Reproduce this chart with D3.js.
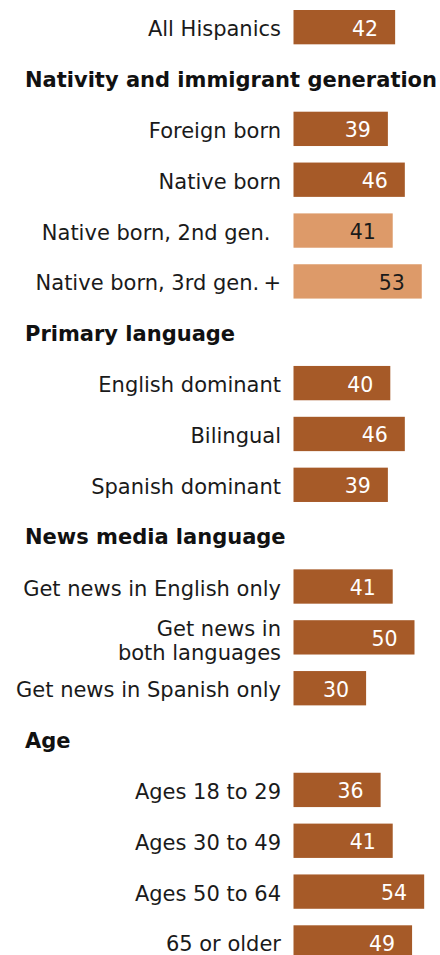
<!DOCTYPE html>
<html>
<head>
<meta charset="utf-8">
<script src="https://cdn.jsdelivr.net/npm/d3@7"></script>
<style>
  html, body { margin: 0; padding: 0; background: #fff; }
  svg { display: block; font-family: "DejaVu Sans", Verdana, sans-serif; }
</style>
</head>
<body>
<svg id="chart" width="440" height="955"></svg>
<script>
// Rows in display order; headers occupy a row slot but draw no bar
const rowLabels = [
  "All Hispanics",
  "Nativity and immigrant generation",
  "Foreign born",
  "Native born",
  "Native born, 2nd gen.\u2002",
  "Native born, 3rd gen.\u2009+",
  "Primary language",
  "English dominant",
  "Bilingual",
  "Spanish dominant",
  "News media language",
  "Get news in English only",
  "Get news in\nboth languages",
  "Get news in Spanish only",
  "Age",
  "Ages 18 to 29",
  "Ages 30 to 49",
  "Ages 50 to 64",
  "65 or older"
];
const rowKinds = ["bar","header","bar","bar","sub","sub","header","bar","bar","bar",
                  "header","bar","bar","bar","header","bar","bar","bar","bar"];
const rowValues = [42, null, 39, 46, 41, 53, null, 40, 46, 39, null, 41, 50, 30, null, 36, 41, 54, 49];

const rows = rowLabels.map((label, i) => ({ i, label, kind: rowKinds[i], value: rowValues[i] }));

const svg = d3.select("#chart");

const x = d3.scaleLinear().domain([0, 54]).range([293.5, 293.5 + 2.42 * 54]);
const step = 50.85;
const y = d3.scaleBand()
  .domain(rows.map(d => d.i))
  .range([10 - 0.1625 * step, 10 - 0.1625 * step + rows.length * step])
  .paddingInner(0.325)
  .paddingOuter(0.1625);

const color = { bar: "#A65A28", sub: "#DD9A69" };
const valueColor = { bar: "#ffffff", sub: "#1a1a1a" };

const bars = rows.filter(d => d.kind !== "header");
const headers = rows.filter(d => d.kind === "header");

svg.append("g").selectAll("rect")
  .data(bars)
  .join("rect")
  .attr("x", x(0))
  .attr("y", d => y(d.i))
  .attr("width", d => x(d.value) - x(0))
  .attr("height", y.bandwidth())
  .attr("fill", d => color[d.kind]);

svg.append("g").selectAll("text")
  .data(bars)
  .join("text")
  .attr("x", d => x(d.value) - 17)
  .attr("y", d => y(d.i) + y.bandwidth() / 2 + 8.5)
  .attr("text-anchor", "end")
  .attr("font-size", 20.5)
  .attr("fill", d => valueColor[d.kind])
  .text(d => d.value);

// Category labels, right-aligned against the bars; multi-line labels split on \n
const lineGap = 24.5;
svg.append("g").selectAll("text")
  .data(bars)
  .join("text")
  .attr("text-anchor", "end")
  .attr("font-size", 21)
  .attr("fill", "#1a1a1a")
  .style("white-space", "pre")
  .each(function(d) {
    const lines = d.label.split("\n");
    const cy = y(d.i) + y.bandwidth() / 2;
    const off = lines.length > 1 ? 1.5 : 0;
    d3.select(this).selectAll("tspan")
      .data(lines)
      .join("tspan")
      .attr("x", 281)
      .attr("y", (l, k) => cy + 9 + off + (k - (lines.length - 1) / 2) * lineGap)
      .text(l => l);
  });

svg.append("g").selectAll("text")
  .data(headers)
  .join("text")
  .attr("x", 25)
  .attr("y", d => y(d.i) + y.bandwidth() / 2 + 8.5)
  .attr("font-size", 21)
  .attr("font-weight", "bold")
  .attr("fill", "#111")
  .text(d => d.label);
</script>
</body>
</html>
